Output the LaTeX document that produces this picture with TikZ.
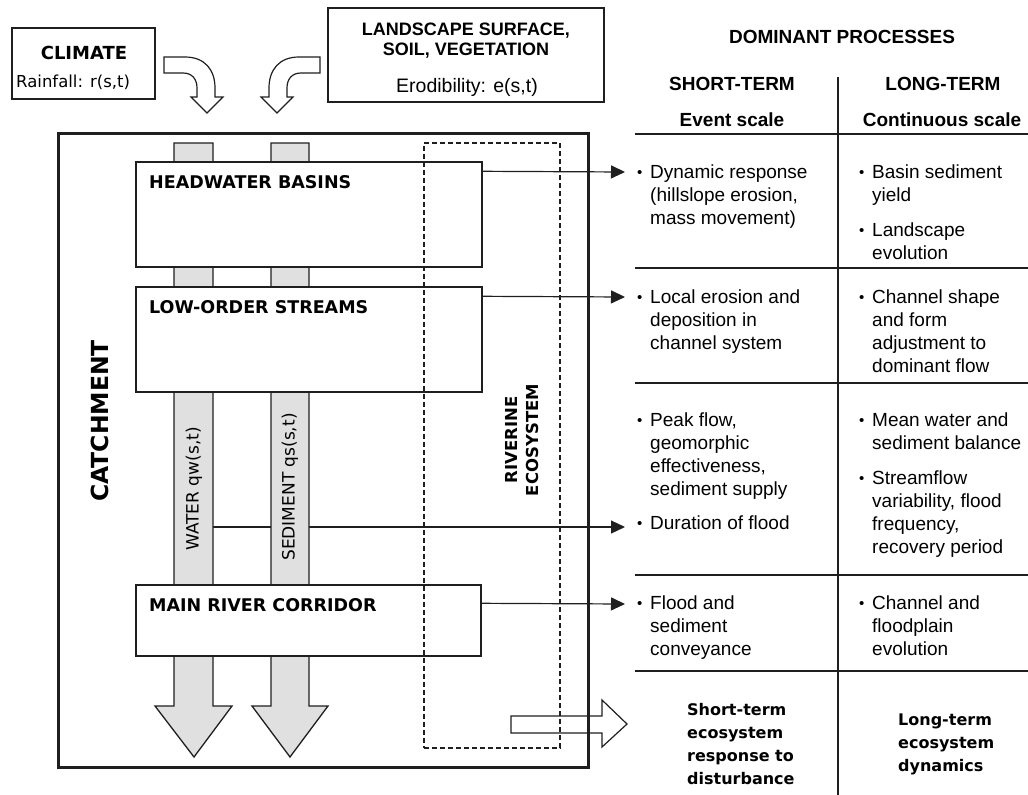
\documentclass[tikz,border=0pt]{standalone}
\usepackage{fontspec}
\setmainfont{Liberation Sans}
\newfontfamily\vfont{DejaVu Sans}
\usetikzlibrary{arrows.meta}
\definecolor{ln}{gray}{0.12}
\definecolor{chanfill}{gray}{0.88}
\newcommand\bul{\makebox[13pt][l]{\hspace{0pt}\raisebox{0.8pt}{\fontsize{15}{15}\selectfont\textbullet}}}
\newcommand\ind{\hspace*{13pt}}
\begin{document}
\begin{tikzpicture}[x=1pt,y=-1pt,
  bx/.style={draw=ln, line width=1.4pt, fill=white, inner sep=0pt},
  chan/.style={draw=ln, line width=1.3pt, fill=chanfill, line join=miter},
  hollow/.style={draw=ln, line width=1.2pt, fill=white, line join=miter},
  conn/.style={draw=ln, line width=1.2pt, -{Triangle[length=14pt,width=13pt]}},
  boxlabel/.style={anchor=base west, inner sep=0pt, font=\vfont\bfseries\fontsize{17.5}{21}\selectfont},
  cell/.style={anchor=north west, inner sep=0pt, align=left, font=\fontsize{19}{23}\selectfont},
  bcell/.style={anchor=north west, inner sep=0pt, align=left, font=\vfont\bfseries\fontsize{16}{23}\selectfont},
  head/.style={anchor=base, inner sep=0pt, font=\bfseries\fontsize{19}{23}\selectfont},
  chanlabel/.style={rotate=90, inner sep=0pt, font=\vfont\fontsize{17}{20}\selectfont}
]
\useasboundingbox (0,0) rectangle (1028,795);

% catchment outer box
\node[draw=ln, line width=3pt, minimum width=530pt, minimum height=634pt, inner sep=0pt] (catch) at (323,450) {};

% connector from the flow channels (drawn below the channels)
\coordinate (wq) at (194,527);
\coordinate (t3) at (625,527);
\draw[conn] (wq) -- (t3);

% channels
\draw[chan] (174,143) -- (213,143) -- (213,706) -- (232,706) -- (194,757) -- (155,706) -- (174,706) -- cycle;
\draw[chan] (271,143) -- (309,143) -- (309,706) -- (328,706) -- (290,757) -- (252,706) -- (271,706) -- cycle;

% boxes inside catchment
\node[bx, minimum width=346pt, minimum height=105pt] (hw) at (309,214.5) {};
\node[bx, minimum width=346pt, minimum height=105pt] (lo) at (309,339.5) {};
\node[bx, minimum width=345pt, minimum height=71pt] (mr) at (308.5,620.5) {};

% riverine ecosystem dashed box
\node[draw=ln, line width=1.2pt, dash pattern=on 5pt off 3pt, minimum width=136pt, minimum height=605pt, inner sep=0pt] (rive) at (492,445.5) {};

% arrows from boxes
\coordinate (t1) at (625,172);
\coordinate (t2) at (625,297);
\coordinate (t4) at (625,604);
\draw[conn] ([yshift=-10pt]hw.north east) -- (t1);
\draw[conn] ([yshift=-10pt]lo.north east) -- (t2);
\draw[conn] ([yshift=-19pt]mr.north east) -- (t4);

% hollow arrow to ecosystem response
\draw[hollow, fill=none] (511,716) -- (602,716) -- (602,700) -- (627,724) -- (602,747) -- (602,733) -- (511,733) -- cycle;

% labels in catchment
\node[boxlabel] (hwl) at (149,188) {HEADWATER BASINS};
\node[boxlabel] (lol) at (149,313) {LOW-ORDER STREAMS};
\node[boxlabel] (mrl) at (149,611) {MAIN RIVER CORRIDOR};
\node[rotate=90, inner sep=0pt, font=\vfont\bfseries\fontsize{23.5}{28}\selectfont] (catl) at (100,421) {CATCHMENT};
\node[rotate=90, inner sep=0pt, align=center, font=\vfont\bfseries\fontsize{16.5}{21}\selectfont] (rivl) at (522,440) {RIVERINE\\ECOSYSTEM};
\node[chanlabel] (wl) at (194,489) {WATER qw(s,t)};
\node[chanlabel] (sl) at (290,487) {SEDIMENT qs(s,t)};

% top boxes
\node[bx, minimum width=143pt, minimum height=71pt] (climate) at (83.5,63.5) {};
\node[anchor=base, inner sep=0pt, font=\vfont\bfseries\fontsize{18}{22}\selectfont] (climt) at (84,59) {CLIMATE};
\node[anchor=base west, inner sep=0pt, font=\vfont\fontsize{16.5}{20}\selectfont] (rain) at (16,87) {Rainfall: r(s,t)};

\node[bx, minimum width=276pt, minimum height=94pt] (land) at (466,55) {};
\node[anchor=base, inner sep=0pt, font=\bfseries\fontsize{18}{22}\selectfont] (landt1) at (466,35) {LANDSCAPE SURFACE,};
\node[anchor=base, inner sep=0pt, font=\bfseries\fontsize{18}{22}\selectfont] (landt2) at (466,55) {SOIL, VEGETATION};
\node[anchor=base, inner sep=0pt, font=\fontsize{19.5}{23}\selectfont] (erod) at (467,92) {Erodibility: e(s,t)};

% curved hollow arrows
\draw[hollow] (164,57) -- (185,57) .. controls (205,57) and (215,70) .. (215,88) -- (215,97) -- (223,97) -- (207,113) -- (191,97) -- (197,97) -- (197,88) .. controls (197,79) and (192,73) .. (183,73) -- (164,73) -- cycle;
\draw[hollow] (320,57) -- (299,57) .. controls (279,57) and (269,70) .. (269,88) -- (269,97) -- (261,97) -- (277,113) -- (293,97) -- (287,97) -- (287,88) .. controls (287,79) and (292,73) .. (301,73) -- (320,73) -- cycle;

% table
\node[head] (dom) at (842,43) {DOMINANT PROCESSES};
\node[head] (st) at (732,90) {SHORT-TERM};
\node[head] (lt) at (943,90) {LONG-TERM};
\node[head] (es) at (732,126) {Event scale};
\node[head] (cs) at (942,126) {Continuous scale};
\draw[ln, line width=2.4pt] (838,77) -- (838,795);
\draw[ln, line width=2.4pt] (635,134) -- (1028,134);
\draw[ln, line width=1.3pt] (635,268) -- (1028,268);
\draw[ln, line width=1.3pt] (635,383) -- (1028,383);
\draw[ln, line width=1.3pt] (635,575) -- (1028,575);
\draw[ln, line width=2.4pt] (635,671) -- (1028,671);

\node[cell] (c11) at (637,161.9) {\strut\bul Dynamic response\\ \ind(hillslope erosion,\\ \ind mass movement)};
\node[cell] (c12) at (859,161.9) {\strut\bul Basin sediment\\ \ind yield\\[12pt] \bul Landscape\\ \ind evolution};
\node[cell] (c21) at (637,286.9) {\strut\bul Local erosion and\\ \ind deposition in\\ \ind channel system};
\node[cell] (c22) at (859,286.9) {\strut\bul Channel shape\\ \ind and form\\ \ind adjustment to\\ \ind dominant flow};
\node[cell] (c31) at (637,409.9) {\strut\bul Peak flow,\\ \ind geomorphic\\ \ind effectiveness,\\ \ind sediment supply\\[11pt] \bul Duration of flood};
\node[cell] (c32) at (859,409.9) {\strut\bul Mean water and\\ \ind sediment balance\\[12pt] \bul Streamflow\\ \ind variability, flood\\ \ind frequency,\\ \ind recovery period};
\node[cell] (c41) at (637,592.9) {\strut\bul Flood and\\ \ind sediment\\ \ind conveyance};
\node[cell] (c42) at (859,592.9) {\strut\bul Channel and\\ \ind floodplain\\ \ind evolution};
\node[bcell] (c51) at (687,698.9) {\strut Short-term\\ecosystem\\response to\\disturbance};
\node[bcell] (c52) at (898,708.9) {\strut Long-term\\ecosystem\\dynamics};
\end{tikzpicture}
\end{document}
